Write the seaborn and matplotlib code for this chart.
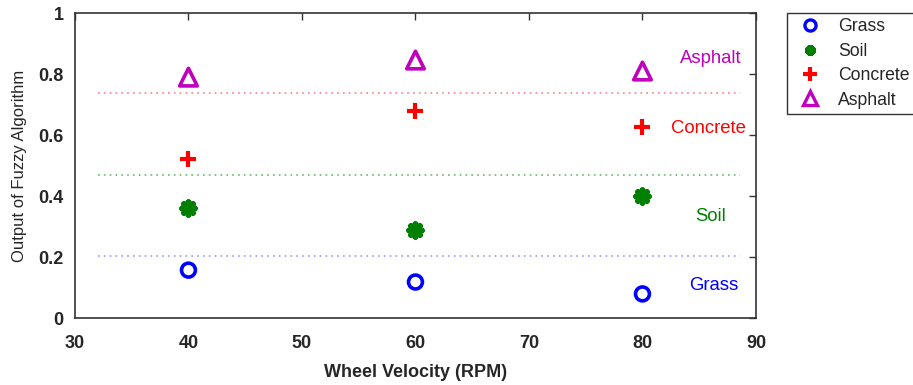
import matplotlib
matplotlib.use("Agg")
import matplotlib.pyplot as plt
import seaborn as sns
import pandas as pd
from matplotlib.lines import Line2D

sns.set_theme(style="white")
plt.rcParams['font.family'] = ['Liberation Sans', 'DejaVu Sans']

velocity = [40, 60, 80]
grass = [0.157, 0.118, 0.079]
soil = [0.36, 0.29, 0.40]
concrete = [0.52, 0.68, 0.626]
asphalt = [0.79, 0.846, 0.81]

thresholds = {"Grass": 0.203, "Soil": 0.469, "Concrete": 0.738}
threshold_x = [32, 88.6]
label_x = {"Asphalt": 86.0, "Concrete": 85.8, "Soil": 86.0, "Grass": 86.3}
label_y = {"Asphalt": 0.852, "Concrete": 0.62, "Soil": 0.334, "Grass": 0.105}

colors = {"Grass": "#0000ff", "Soil": "#007f00", "Concrete": "#ff0000", "Asphalt": "#bf00bf"}
line_colors = {"Grass": "#9999ff", "Soil": "#66bb66", "Concrete": "#ff8080"}

fig = plt.figure(figsize=(9.13, 3.85), dpi=100)
ax = fig.add_axes([0.0821, 0.174, 0.7459, 0.792])

# threshold lines
for name, val in thresholds.items():
    df_l = pd.DataFrame({"x": threshold_x, "y": [val, val]})
    sns.lineplot(data=df_l, x="x", y="y", ax=ax, color=line_colors[name],
                 linestyle=(0, (1, 2.5)), linewidth=1.2)

series = [("Grass", grass), ("Soil", soil), ("Concrete", concrete), ("Asphalt", asphalt)]
styles = {
    "Grass": dict(marker="o", s=100, facecolor="none", edgecolor=colors["Grass"], linewidth=2.6),
    "Soil": dict(marker=(8, 2, 0), s=85, color=colors["Soil"], linewidth=4),
    "Concrete": dict(marker="+", s=140, color=colors["Concrete"], linewidth=3),
    "Asphalt": dict(marker="^", s=160, facecolor="none", edgecolor=colors["Asphalt"], linewidth=2.6),
}
for name, vals in series:
    df = pd.DataFrame({"v": velocity, "o": vals})
    sns.scatterplot(data=df, x="v", y="o", ax=ax, **styles[name])

for name, yv in label_y.items():
    ax.text(label_x[name], yv, name, color=colors[name], fontsize=13.3, ha="center", va="center")

ax.set_xlim(30, 90)
ax.set_ylim(0, 1)
ax.set_xticks([30, 40, 50, 60, 70, 80, 90])
ax.set_yticks([0, 0.2, 0.4, 0.6, 0.8, 1])
ax.set_yticklabels(["0", "0.2", "0.4", "0.6", "0.8", "1"])
ax.tick_params(direction="in", length=5, width=1, color="#333333",
               top=True, right=True, labelsize=13, pad=8)
ax.tick_params(axis="x", pad=12)
for lab in ax.get_xticklabels() + ax.get_yticklabels():
    lab.set_fontweight("bold")
for sp in ax.spines.values():
    sp.set_color("#333333")
    sp.set_linewidth(1.2)
ax.set_xlabel("Wheel Velocity (RPM)", fontsize=13, fontweight="bold", labelpad=9)
ax.set_ylabel("Output of Fuzzy Algorithm", fontsize=12, labelpad=8)

handles = [
    Line2D([], [], linestyle="none", marker="o", markersize=8, markerfacecolor="none",
           markeredgecolor=colors["Grass"], markeredgewidth=2.4),
    Line2D([], [], linestyle="none", marker=(8, 2, 0), markersize=7.5,
           color=colors["Soil"], markeredgewidth=3.5),
    Line2D([], [], linestyle="none", marker="+", markersize=10,
           color=colors["Concrete"], markeredgewidth=3),
    Line2D([], [], linestyle="none", marker="^", markersize=10, markerfacecolor="none",
           markeredgecolor=colors["Asphalt"], markeredgewidth=2.4),
]
leg = fig.legend(handles, ["Grass", "Soil", "Concrete", "Asphalt"],
                 loc="upper left", bbox_to_anchor=(0.862, 0.966), borderaxespad=0,
                 frameon=True, fancybox=False, edgecolor="black", fontsize=12.7,
                 handletextpad=0.6, labelspacing=0.42, borderpad=0.3, handlelength=2.0)
leg.get_frame().set_linewidth(1.0)

fig.savefig("out.png", dpi=100)
